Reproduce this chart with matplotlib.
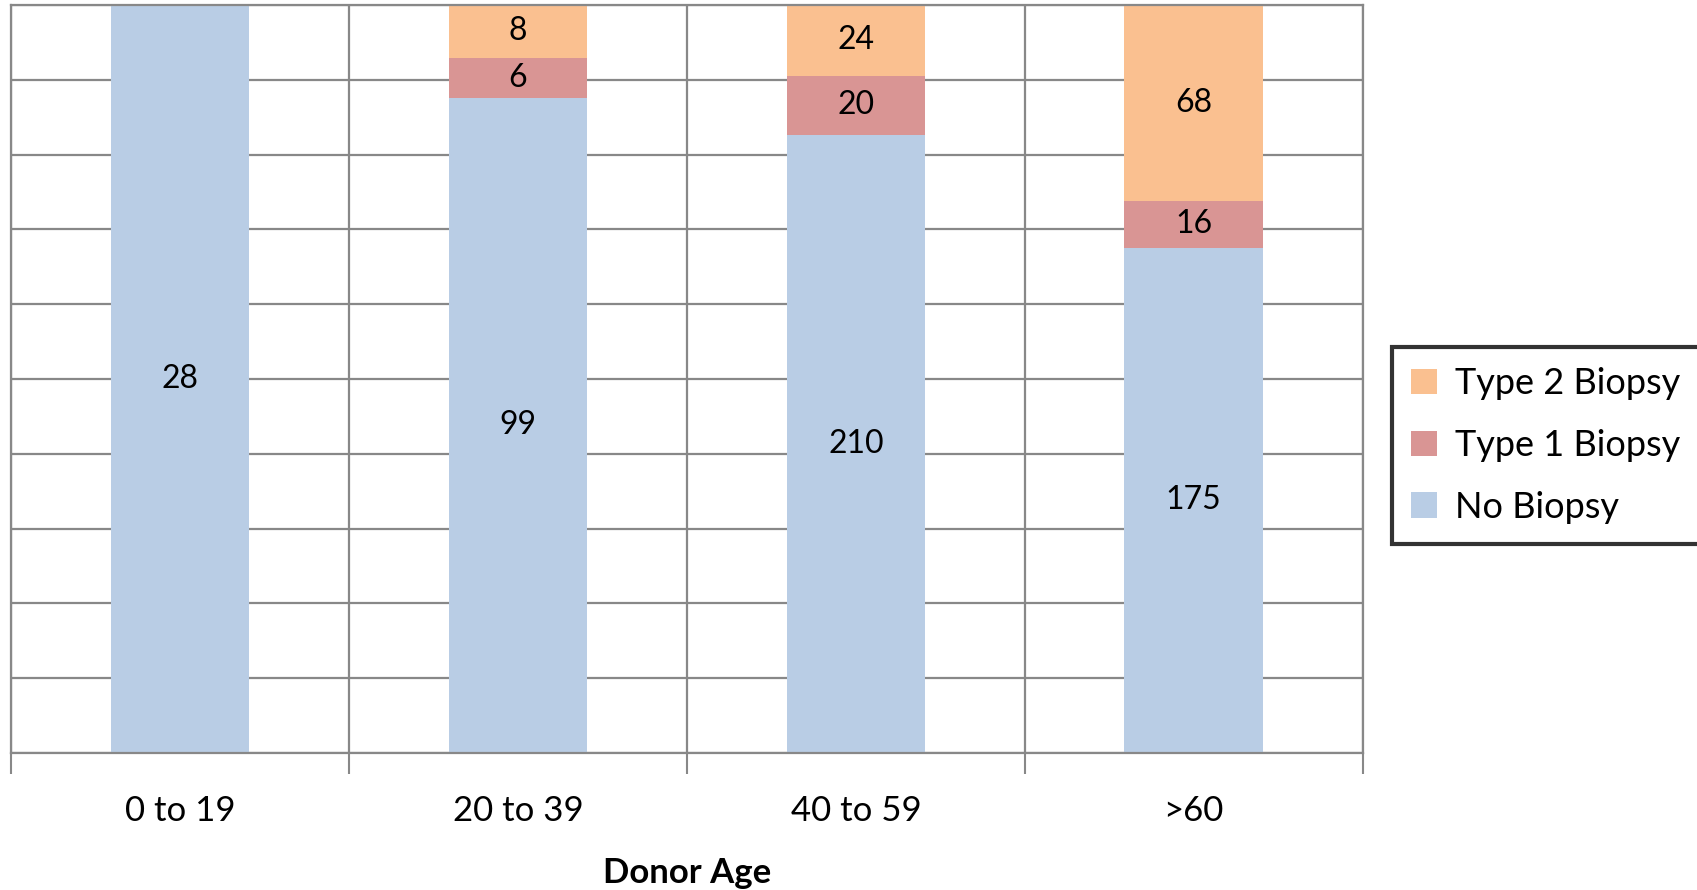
import numpy as np
import matplotlib.pyplot as plt

plt.rcParams['font.family'] = ['Lato', 'DejaVu Sans']

ages = ['0 to 19', '20 to 39', '40 to 59', '>60']
no_biopsy = [28, 99, 210, 175]
type1 = [0, 6, 20, 16]
type2 = [0, 8, 24, 68]

series = [('No Biopsy', no_biopsy, '#B9CDE5'),
          ('Type 1 Biopsy', type1, '#D99594'),
          ('Type 2 Biopsy', type2, '#FAC090')]

totals = np.array(no_biopsy) + np.array(type1) + np.array(type2)

fig = plt.figure(figsize=(16.97, 8.9), dpi=100)
ax = fig.add_axes([0.0065, 0.154, 0.7965, 0.8404])

x = np.arange(len(ages)) + 0.5
bottom = np.zeros(len(ages))
handles = []
for name, vals, col in series:
    share = np.array(vals) / totals * 100
    bars = ax.bar(x, share, 0.41, bottom=bottom, color=col, label=name, zorder=2)
    ax.bar_label(bars, labels=[str(v) if v else '' for v in vals],
                 label_type='center', fontsize=23)
    bottom += share
    handles.append(bars)

ax.set_xlim(0, 4)
ax.set_ylim(0, 100)
ax.set_yticks(np.arange(0, 101, 10))
ax.set_yticklabels([])
ax.tick_params(axis='y', length=0)
ax.set_xticks(np.arange(0, 5))
ax.set_xticklabels([])
ax.set_xticks(x, minor=True)
ax.set_xticklabels(ages, minor=True, fontsize=25)
ax.tick_params(axis='x', which='major', length=15, width=1.5, color='#888888')
ax.tick_params(axis='x', which='minor', length=0, pad=30)
ax.grid(True, which='major', color='#888888', lw=1.6, zorder=0)
for s in ax.spines.values():
    s.set_color('#888888')
    s.set_linewidth(1.6)
ax.set_xlabel('Donor Age', fontsize=25, fontweight='bold', labelpad=22)

leg = fig.legend(handles[::-1], [s[0] for s in series][::-1],
                 loc='upper left', bbox_to_anchor=(0.82, 0.61),
                 fontsize=26, frameon=True, fancybox=False,
                 handlelength=0.7, handleheight=0.7, handletextpad=0.5,
                 labelspacing=0.8, borderpad=0.55, borderaxespad=0)
leg.get_frame().set_edgecolor('black')
leg.get_frame().set_linewidth(3)

fig.savefig('out.png', dpi=100)
